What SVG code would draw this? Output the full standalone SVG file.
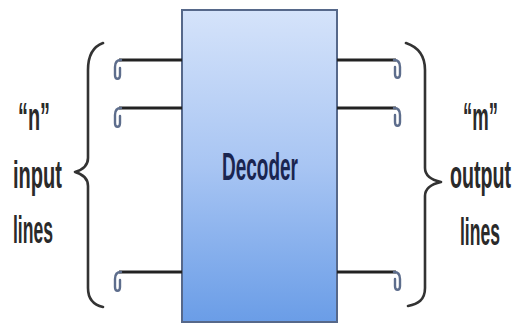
<svg xmlns="http://www.w3.org/2000/svg" width="517" height="327" viewBox="0 0 517 327">
<defs>
<linearGradient id="boxg" x1="0" y1="0" x2="0" y2="1">
<stop offset="0" stop-color="#d5e3fa"/>
<stop offset="0.5" stop-color="#a8c5f3"/>
<stop offset="1" stop-color="#6a9de7"/>
</linearGradient>
<style>
.lbl{font-family:"Liberation Sans",Arial,sans-serif;font-size:39px;font-weight:bold;fill:#2a2a2a;}
.wire{stroke:#222;stroke-width:3;fill:none;}
.pin{stroke:#5d6d8c;stroke-width:2.4;fill:none;stroke-linecap:round;}
.brace{stroke:#333;stroke-width:2.6;fill:none;stroke-linecap:round;stroke-linejoin:round;}
</style>
</defs>
<rect width="517" height="327" fill="#fff"/>
<g id="decoder">
<rect x="182" y="10" width="155" height="312" fill="url(#boxg)" stroke="#56688a" stroke-width="2"/>
<text class="lbl" style="fill:#1a2550" transform="translate(222,180) scale(0.487,1)">Decoder</text>
</g>
<g id="connectors">
<line class="wire" x1="119" y1="60" x2="182" y2="60"/>
<line class="wire" x1="119" y1="108" x2="182" y2="108"/>
<line class="wire" x1="119" y1="272" x2="182" y2="272"/>
<line class="wire" x1="337" y1="60" x2="396" y2="60"/>
<line class="wire" x1="337" y1="108" x2="396" y2="108"/>
<line class="wire" x1="337" y1="272" x2="396" y2="272"/>
<path class="pin" d="M121,60 C116,60 115,63 115,67 L115,75 C115,80 120,80 120,75 L120,68"/>
<path class="pin" d="M121,108 C116,108 115,111 115,115 L115,123 C115,128 120,128 120,123 L120,116"/>
<path class="pin" d="M121,272 C116,272 115,275 115,279 L115,287 C115,292 120,292 120,287 L120,280"/>
<path class="pin" d="M394,60 C399,60 400,63 400,67 L400,74 C400,79 395,79 395,74 L395,67"/>
<path class="pin" d="M394,108 C399,108 400,111 400,115 L400,122 C400,127 395,127 395,122 L395,115"/>
<path class="pin" d="M394,272 C399,272 400,275 400,279 L400,286 C400,291 395,291 395,286 L395,279"/>
</g>
<g id="input-brace">
<path class="brace" d="M103,43 C92,47 88,56 88,70 L88,158 C88,166 82,170 75,172 C82,174 88,178 88,186 L88,288 C88,300 94,305 103,307"/>
</g>
<g id="output-brace">
<path class="brace" d="M406,43 C418,47 425,56 425,70 L425,168 C425,176 432,180 441,182 C432,184 425,188 425,196 L425,288 C425,300 418,304 408,306"/>
</g>
<g id="input-label">
<text class="lbl" transform="translate(18,130) scale(0.51,1)">“n”</text>
<text class="lbl" transform="translate(13,188) scale(0.514,1)">input</text>
<text class="lbl" transform="translate(13,243) scale(0.45,1)">lines</text>
</g>
<g id="output-label">
<text class="lbl" transform="translate(463,130) scale(0.475,1)">“m”</text>
<text class="lbl" transform="translate(450,188) scale(0.503,1)">output</text>
<text class="lbl" transform="translate(460,245) scale(0.45,1)">lines</text>
</g>
</svg>
